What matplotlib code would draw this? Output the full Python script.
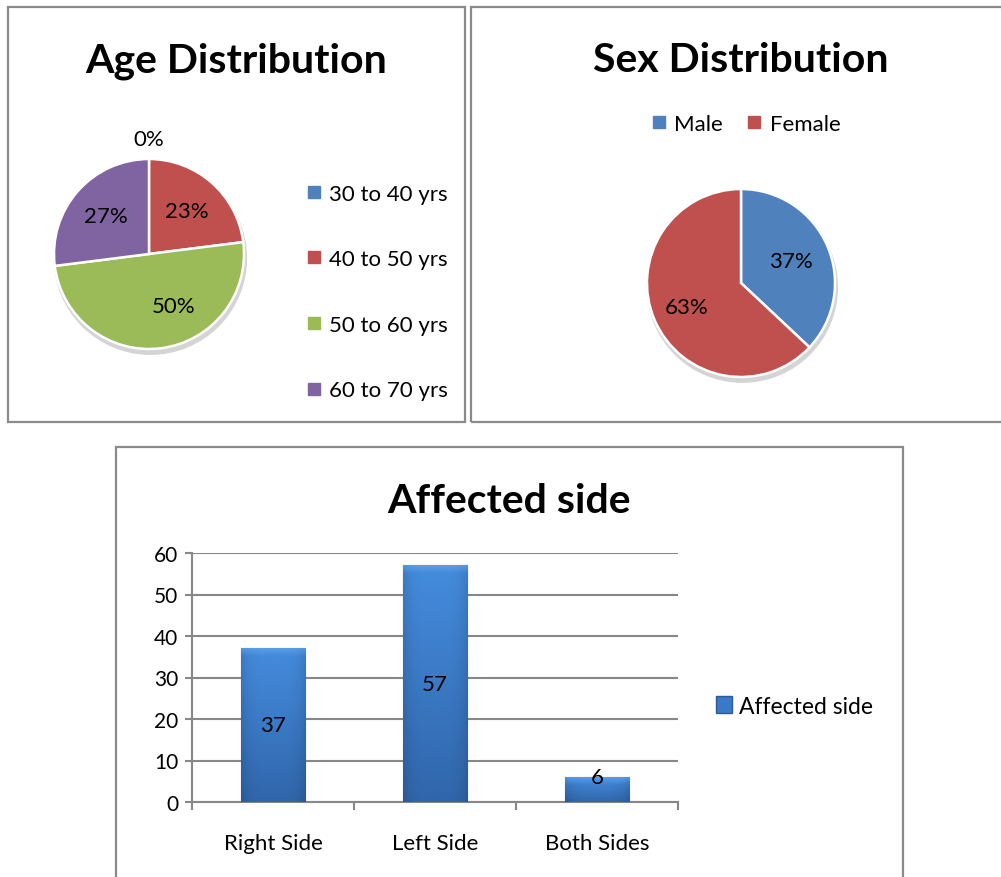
import numpy as np
import matplotlib.pyplot as plt
from matplotlib.patches import Rectangle, Circle, Patch
from matplotlib.lines import Line2D

plt.rcParams['font.family'] = ['Lato', 'DejaVu Sans']

age_groups = ['30 to 40 yrs', '40 to 50 yrs', '50 to 60 yrs', '60 to 70 yrs']
age_pct = [0, 23, 50, 27]
age_colors = ['#4F81BD', '#C0504D', '#9BBB59', '#8064A2']

sexes = ['Male', 'Female']
sex_pct = [37, 63]
sex_colors = ['#4F81BD', '#C0504D']

sides = ['Right Side', 'Left Side', 'Both Sides']
side_counts = [37, 57, 6]

W, H = 1001, 878
fig = plt.figure(figsize=(W / 100, H / 100), dpi=100)


def box(x0, y0, x1, y1):
    # pixel box (top-left origin) -> figure rect
    return [x0 / W, 1 - y1 / H, (x1 - x0) / W, (y1 - y0) / H]


def fpt(x, y):
    return (x / W, 1 - y / H)


# panel frames
for x0, y0, x1, y1 in [(8, 8, 465, 423), (471, 8, 1005, 423), (116, 448, 903, 882)]:
    fig.patches.append(Rectangle((x0 / W, 1 - y1 / H), (x1 - x0) / W, (y1 - y0) / H,
                                 transform=fig.transFigure, fill=False,
                                 ec='#8a8a8a', lw=1.6))


def pie_panel(cx, cy, r, values, colors, label_r, label_rot):
    ax = fig.add_axes(box(cx - r, cy - r, cx + r, cy + r))
    shadow = Circle((0.015, -0.045), 1.01, color='#d4d4d4', zorder=0, clip_on=False)
    ax.add_patch(shadow)
    ax.pie(values, colors=colors, startangle=90, counterclock=False, radius=1,
           wedgeprops=dict(edgecolor='white', linewidth=1.8))
    total = float(sum(values))
    cum = np.cumsum(values)
    for v, c, lr, rot in zip(values, cum, label_r, label_rot):
        theta = np.deg2rad(90 - 360 * (c - v / 2) / total + rot)
        ax.text(lr * np.cos(theta), lr * np.sin(theta), f'{v}%',
                ha='center', va='center', fontsize=16, color='black')
    ax.set_xlim(-1, 1)
    ax.set_ylim(-1, 1)
    ax.set_aspect('equal')
    ax.axis('off')
    return ax


# ---- Age Distribution
fig.text(*fpt(236, 72), 'Age Distribution', ha='center', va='baseline',
         fontsize=29.5, fontweight='bold')
pie_panel(149, 255, 95, age_pct, age_colors, [1.21, 0.6, 0.6, 0.6], [0, 0, 18, 0])
age_handles = [Line2D([], [], marker='s', ls='', color=c, markersize=8.5) for c in age_colors]
fig.legend(age_handles, age_groups, loc='center left', bbox_to_anchor=fpt(305, 293),
           frameon=False, fontsize=16, labelspacing=2.05, handlelength=0.8,
           handletextpad=0.3, borderpad=0, borderaxespad=0)

# ---- Sex Distribution
fig.text(*fpt(741, 72), 'Sex Distribution', ha='center', va='baseline',
         fontsize=29.5, fontweight='bold')
pie_panel(741, 284, 94, sex_pct, sex_colors, [0.58, 0.63], [0, 0])
sex_handles = [Line2D([], [], marker='s', ls='', color=c, markersize=8.5) for c in sex_colors]
fig.legend(sex_handles, sexes, loc='center', bbox_to_anchor=fpt(745, 125), ncol=2,
           frameon=False, fontsize=16, handlelength=0.8, handletextpad=0.3,
           columnspacing=1.0, borderpad=0, borderaxespad=0)

# ---- Affected side
fig.text(*fpt(509, 513), 'Affected side', ha='center', va='baseline',
         fontsize=29.5, fontweight='bold')
ax = fig.add_axes(box(192, 554, 678, 803))
x = np.arange(len(sides))
bars = ax.bar(x, side_counts, width=0.4, color='#3a78c8', edgecolor='#2c5a96',
              linewidth=0.8, zorder=3)

# bevel-like shading inside each bar
gx = np.linspace(0, 1, 60)
gy = np.linspace(0, 1, 120)
GX, GY = np.meshgrid(gx, gy)
top = np.array([0.27, 0.55, 0.87])
bot = np.array([0.19, 0.40, 0.67])
for b in bars:
    bx, by = b.get_x(), b.get_y()
    bw, bh = b.get_width(), b.get_height()
    cap = min(1.8 / bh, 0.5)
    img = top * (1 - GY[..., None]) + bot * GY[..., None]
    img = img * (1 - 0.12 * (np.abs(GX - 0.5) * 2)[..., None] ** 4)
    light = np.clip(1 - GY / cap, 0, 1)[..., None]
    img = img * (1 - 0.5 * light) + np.array([0.42, 0.68, 0.95]) * 0.5 * light
    im = ax.imshow(np.clip(img, 0, 1), extent=(bx, bx + bw, by, by + bh),
                   aspect='auto', origin='upper', zorder=3.5)
    im.set_clip_path(b)

for xi, v in zip(x, side_counts):
    ax.text(xi, v / 2 if v > 10 else v, str(v), ha='center', va='center',
            fontsize=16, zorder=5)

ax.set_xlim(-0.5, 2.5)
ax.set_ylim(0, 60)
ax.set_yticks(range(0, 61, 10))
ax.yaxis.grid(True, color='#878787', lw=1.5, zorder=0)
ax.set_axisbelow(True)
for s in ['top', 'right']:
    ax.spines[s].set_visible(False)
for s in ['left', 'bottom']:
    ax.spines[s].set_color('#878787')
    ax.spines[s].set_linewidth(1.5)
ax.tick_params(axis='y', length=5, width=1.5, color='#878787', labelsize=15, pad=5)
ax.set_xticks([-0.5, 0.5, 1.5, 2.5])
ax.set_xticklabels([])
ax.set_xticks(x, minor=True)
ax.set_xticklabels(sides, minor=True)
ax.tick_params(axis='x', which='major', length=6, width=1.5, color='#878787')
ax.tick_params(axis='x', which='minor', length=0, labelsize=16, pad=22)

fig.legend([Patch(facecolor='#3a78c8', edgecolor='#2c5a96')], ['Affected side'],
           loc='center left', bbox_to_anchor=fpt(716, 707), frameon=False,
           fontsize=16.5, handlelength=0.7, handleheight=0.7, handletextpad=0.3,
           borderpad=0, borderaxespad=0)

fig.savefig('out.png', dpi=100)
